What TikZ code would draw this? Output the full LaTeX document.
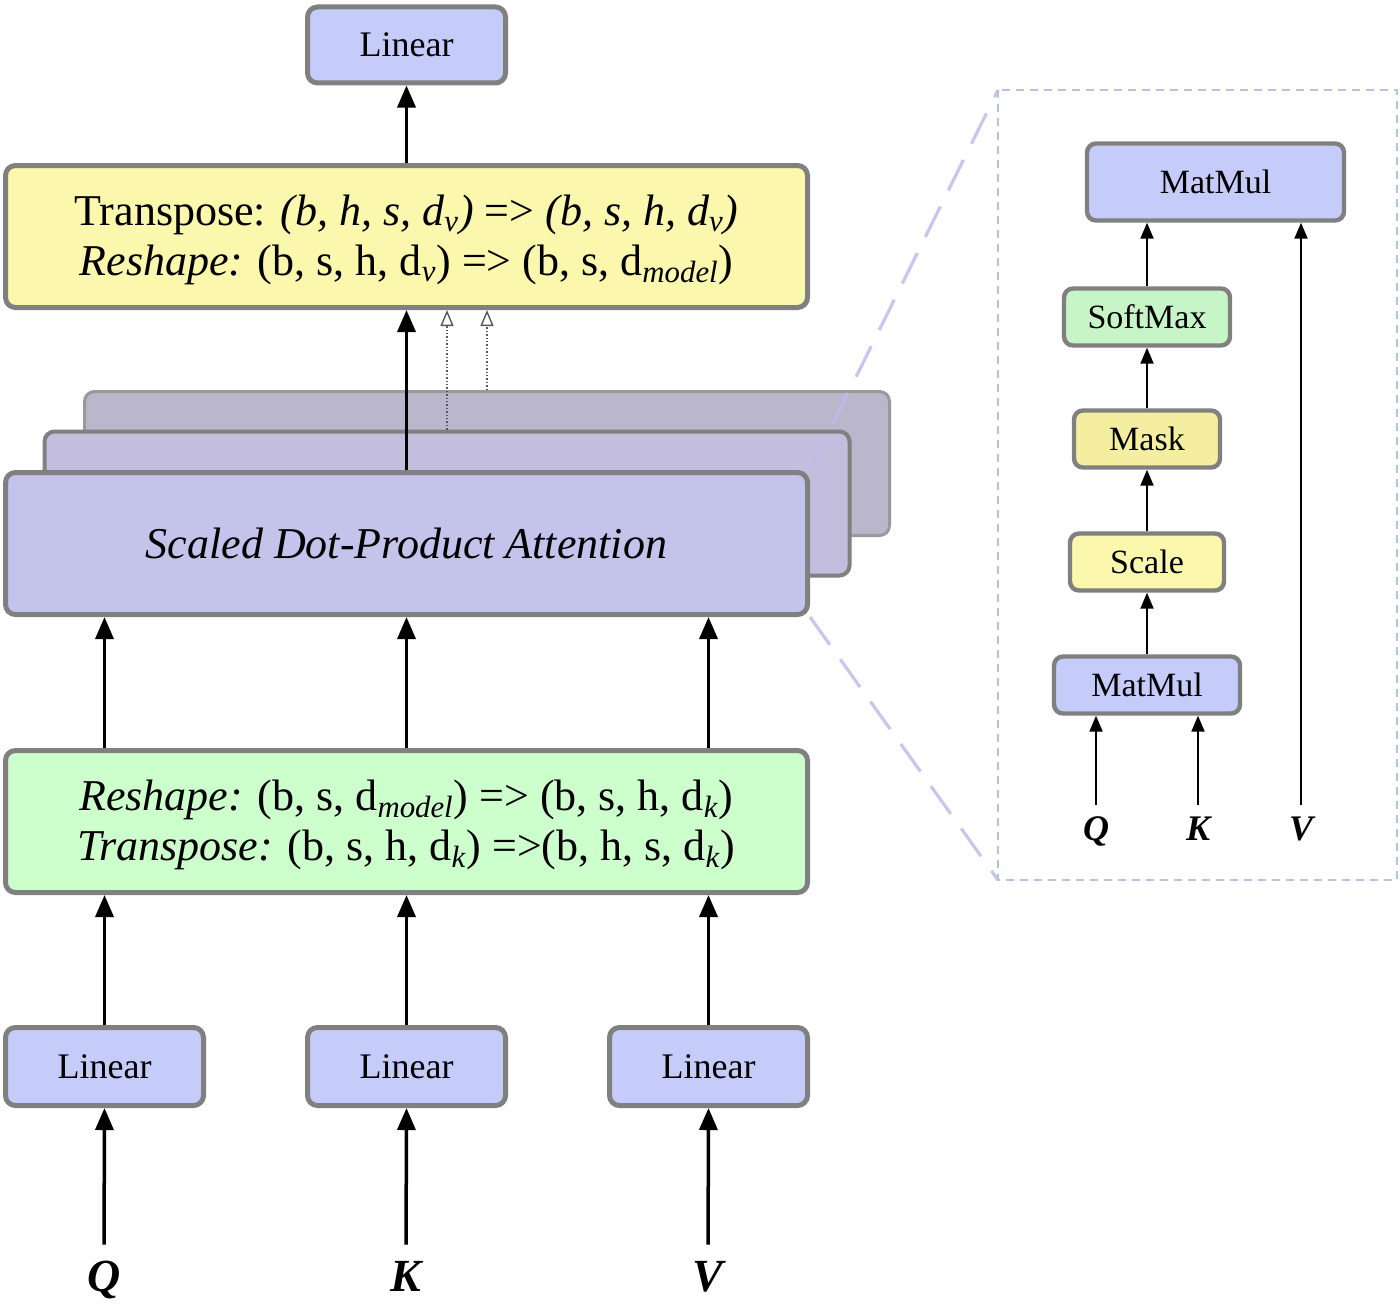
\documentclass[tikz,border=0pt]{standalone}
\usepackage{fontspec}
\setmainfont{Liberation Serif}
\usetikzlibrary{arrows.meta}
\definecolor{peri}{RGB}{198,204,250}
\definecolor{bordergray}{RGB}{128,128,128}
\definecolor{yel}{RGB}{251,247,172}
\definecolor{grn}{RGB}{204,255,204}
\definecolor{sdpaA}{RGB}{196,195,236}
\definecolor{sdpaB}{RGB}{195,190,222}
\definecolor{sdpaC}{RGB}{186,182,204}
\definecolor{smgrn}{RGB}{200,245,200}
\definecolor{maskyel}{RGB}{245,238,160}
\definecolor{zoomc}{RGB}{188,188,236}
\definecolor{panelc}{RGB}{178,196,226}
\begin{document}
\begin{tikzpicture}[x=0.5pt,y=-0.5pt,
  box/.style={draw=bordergray, line width=2.5pt, rounded corners=5pt, inner sep=0pt, align=center},
  smallbox/.style={draw=bordergray, line width=2.2pt, rounded corners=4.5pt, inner sep=0pt, font=\fontsize{17}{20}\selectfont},
  layer/.style={draw=bordergray!80, line width=1.5pt, rounded corners=5pt, inner sep=0pt, minimum width=402.5pt, minimum height=72pt},
  arr/.style={line width=1.75pt, -{Triangle[length=11pt,width=9pt]}},
  sarr/.style={line width=1pt, -{Triangle[length=8pt,width=6.5pt]}},
  faint/.style={densely dotted, line width=0.7pt, draw=black!65, -{Triangle[open,length=8pt,width=6.5pt]}},
  zoomline/.style={draw=zoomc, line width=1.6pt, dash pattern=on 17pt off 9pt, opacity=0.85},
  paneldash/.style={draw=panelc, line width=0.8pt, dash pattern=on 4pt off 3pt},
  lbl/.style={font=\fontsize{23}{26}\selectfont\bfseries\itshape, inner sep=1pt, text height=16pt, text depth=0pt},
  slbl/.style={font=\fontsize{18}{20}\selectfont\bfseries\itshape, inner sep=1pt, text height=12.5pt, text depth=0pt},
  linbox/.style={box, fill=peri, minimum width=99pt, minimum height=39pt, font=\fontsize{18}{22}\selectfont},
  bigtext/.style={font=\fontsize{22}{25}\selectfont}
]
\useasboundingbox (0,0) rectangle (1400,1311);

% ---------- left column ----------
\node[linbox, minimum height=38pt] (lin0) at (406.5,45) {Linear};
\node[box, fill=yel, bigtext, minimum width=401pt, minimum height=71pt] (tr) at (406.5,236.5)
  {\raisebox{-2pt}[\height][\depth]{\begin{tabular}{@{}c@{}}Transpose: \textit{(b, h, s, d\textsubscript{v})} => \textit{(b, s, h, d\textsubscript{v})}\\
   \textit{Reshape:} (b, s, h, d\textsubscript{\textit{v}}) => (b, s, d\textsubscript{\textit{model}})\end{tabular}}};

\node[layer, fill=sdpaC] (sdpa3) at (487,463.5) {};
\node[layer, fill=sdpaB, draw=bordergray, line width=2pt] (sdpa2) at (447,503.5) {};
\node[box, fill=sdpaA, minimum width=401pt, minimum height=71pt, font=\fontsize{22}{26}\selectfont\itshape] (sdpa) at (406.5,543.5)
  {Scaled Dot-Product Attention};

\node[box, fill=grn, bigtext, minimum width=401pt, minimum height=71pt] (rs) at (406.5,821.5)
  {\raisebox{-2pt}[\height][\depth]{\begin{tabular}{@{}c@{}}\textit{Reshape:} (b, s, d\textsubscript{\textit{model}}) => (b, s, h, d\textsubscript{\textit{k}})\\
   \textit{Transpose:} (b, s, h, d\textsubscript{\textit{k}}) =>(b, h, s, d\textsubscript{\textit{k}})\end{tabular}}};

\node[linbox] (lq) at (104.5,1066.5) {Linear};
\node[linbox] (lk) at (406.5,1066.5) {Linear};
\node[linbox] (lv) at (708.5,1066.5) {Linear};

\node[lbl] (Q) at (104,1275) {Q};
\node[lbl] (K) at (406,1275) {K};
\node[lbl] (V) at (708,1275) {V};

% arrows left
\draw[arr, shorten <=6pt] (Q.north) -- (lq.south);
\draw[arr, shorten <=6pt] (K.north) -- (lk.south);
\draw[arr, shorten <=6pt] (V.north) -- (lv.south);
\draw[arr] (lq.north) -- (lq.north |- rs.south);
\draw[arr] (lk.north) -- (lk.north |- rs.south);
\draw[arr] (lv.north) -- (lv.north |- rs.south);
\draw[arr] (rs.north -| lq.north) -- (sdpa.south -| lq.north);
\draw[arr] (rs.north -| lk.north) -- (sdpa.south -| lk.north);
\draw[arr] (rs.north -| lv.north) -- (sdpa.south -| lv.north);
\draw[arr] (sdpa.north) -- (sdpa.north |- tr.south);
\draw[faint] (sdpa2.north) -- (sdpa2.north |- tr.south);
\draw[faint] (sdpa3.north) -- (sdpa3.north |- tr.south);
\draw[arr] (tr.north) -- (lin0.south);

% ---------- right panel ----------
\coordinate (pa) at (998,90);
\coordinate (pb) at (1397,880);
\draw[paneldash] (pa) rectangle (pb);
\draw[zoomline] (sdpa.north east) -- (pa);
\draw[zoomline] (sdpa.south east) -- (pa |- pb);

\node[smallbox, fill=peri, minimum width=128.5pt, minimum height=38.5pt] (mm2) at (1215.5,182) {MatMul};
\node[smallbox, fill=smgrn, minimum width=83pt, minimum height=28.5pt] (sm) at (1147,317) {SoftMax};
\node[smallbox, fill=maskyel, minimum width=73pt, minimum height=28.5pt] (mask) at (1147,439) {Mask};
\node[smallbox, fill=yel, minimum width=77pt, minimum height=28.5pt] (scale) at (1147,562) {Scale};
\node[smallbox, fill=peri, minimum width=93pt, minimum height=28.5pt] (mm1) at (1147,685) {MatMul};

\node[slbl] (Q2) at (1096,828) {Q};
\node[slbl] (K2) at (1198,828) {K};
\node[slbl] (V2) at (1301,828) {V};

\draw[sarr, shorten <=4pt] (Q2.north) -- (Q2.north |- mm1.south);
\draw[sarr, shorten <=4pt] (K2.north) -- (K2.north |- mm1.south);
\draw[sarr, shorten <=4pt] (V2.north) -- (V2.north |- mm2.south);
\draw[sarr] (mm1.north) -- (scale.south);
\draw[sarr] (scale.north) -- (mask.south);
\draw[sarr] (mask.north) -- (sm.south);
\draw[sarr] (sm.north) -- (sm.north |- mm2.south);
\end{tikzpicture}
\end{document}
